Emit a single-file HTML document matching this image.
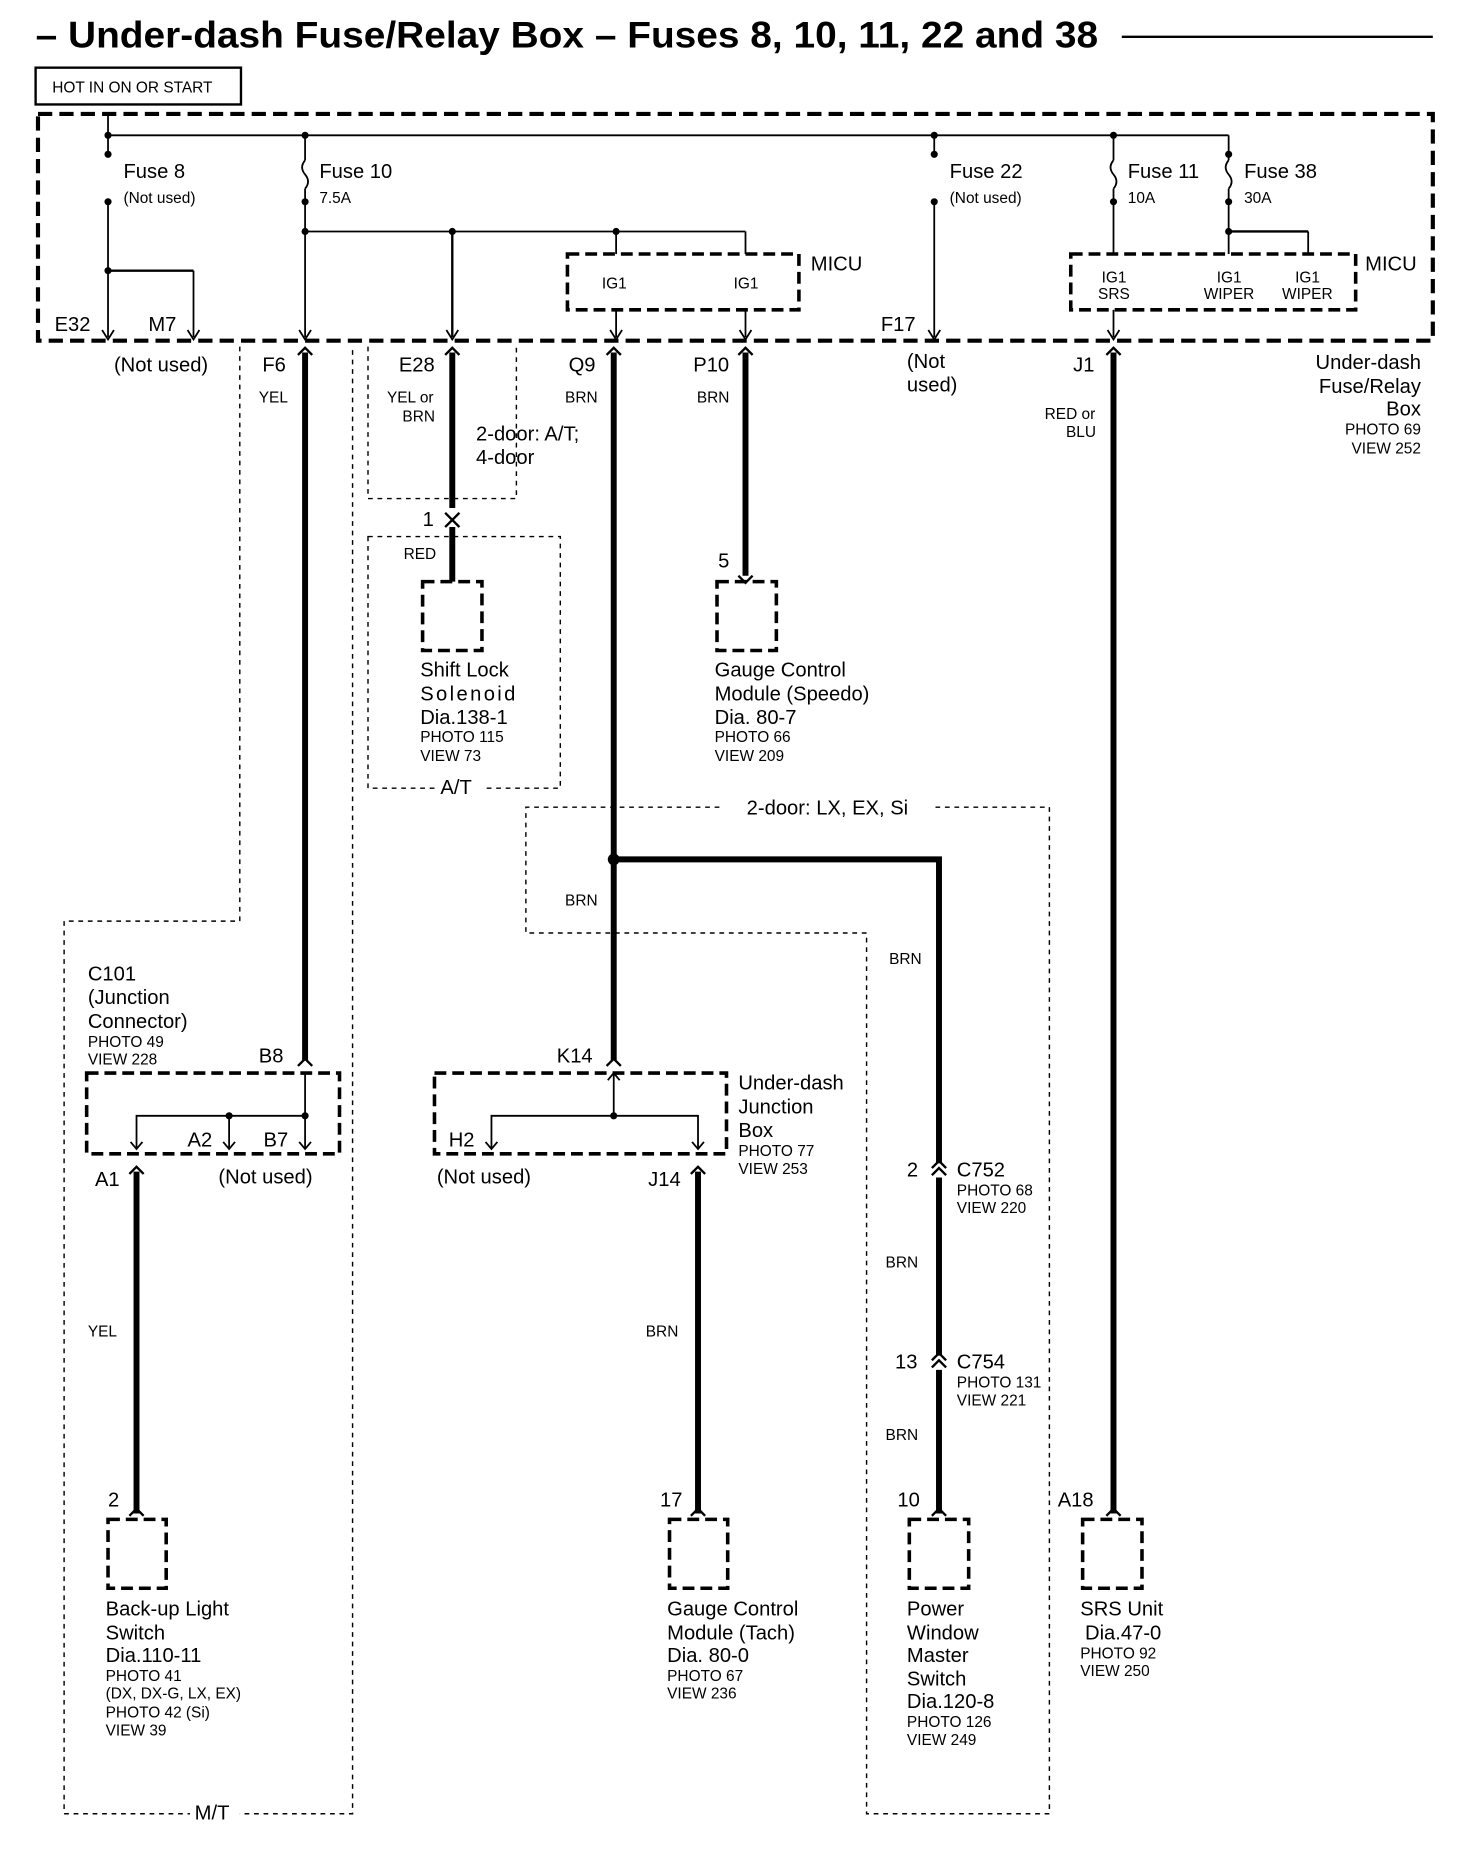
<!DOCTYPE html>
<html><head><meta charset="utf-8"><style>
html,body{margin:0;padding:0;background:#fff}
svg{display:block}
text{font-family:"Liberation Sans",sans-serif;fill:#000}
.l{font-size:17px}.s{font-size:13px}
</style></head><body>
<svg width="1472" height="1866" viewBox="0 0 1240 1572" preserveAspectRatio="none" xmlns="http://www.w3.org/2000/svg">
<g stroke="#000" fill="none">
<line x1="945" y1="31" x2="1207" y2="31" stroke-width="2"/>
<rect x="30" y="57" width="173" height="31" stroke-width="2"/>
<rect x="32" y="96" width="1175" height="191" stroke-width="3.5" stroke-dasharray="12,6"/>
<rect x="478" y="214" width="195" height="47" stroke-width="3" stroke-dasharray="10,5"/>
<rect x="902" y="214" width="240" height="47" stroke-width="3" stroke-dasharray="10,5"/>
<g stroke-width="1.5">
<line x1="91" y1="96" x2="91" y2="114"/>
<line x1="91" y1="114" x2="1035" y2="114"/>
<line x1="91" y1="114" x2="91" y2="130"/>
<line x1="91" y1="170" x2="91" y2="284"/>
<line x1="91" y1="228" x2="163" y2="228" stroke-width="2"/>
<line x1="163" y1="228" x2="163" y2="284"/>
<line x1="257" y1="114" x2="257" y2="135"/>
<path d="M257 135 q-5 6 0 12 q5 6 0 12"/>
<line x1="257" y1="159" x2="257" y2="284"/>
<line x1="257" y1="195" x2="628" y2="195"/>
<line x1="381" y1="195" x2="381" y2="284" stroke-width="2"/>
<line x1="519" y1="195" x2="519" y2="214"/>
<line x1="628" y1="195" x2="628" y2="214"/>
<line x1="519" y1="261" x2="519" y2="284"/>
<line x1="628" y1="261" x2="628" y2="284"/>
<line x1="787" y1="114" x2="787" y2="130"/>
<line x1="787" y1="170" x2="787" y2="284"/>
<line x1="938" y1="114" x2="938" y2="135"/>
<path d="M938 135 q-5 6 0 12 q5 6 0 12"/>
<line x1="938" y1="159" x2="938" y2="214"/>
<line x1="938" y1="261" x2="938" y2="284"/>
<line x1="1035" y1="114" x2="1035" y2="135"/>
<path d="M1035 135 q-5 6 0 12 q5 6 0 12"/>
<line x1="1035" y1="159" x2="1035" y2="214"/>
<line x1="1035" y1="195" x2="1102" y2="195" stroke-width="2"/>
<line x1="1102" y1="195" x2="1102" y2="214"/>
</g>
<g stroke-width="1.5">
<path d="M86 278 l5 8 l5 -8"/><path d="M158 278 l5 8 l5 -8"/><path d="M252 278 l5 8 l5 -8"/>
<path d="M376 278 l5 8 l5 -8"/><path d="M514 278 l5 8 l5 -8"/><path d="M623 278 l5 8 l5 -8"/>
<path d="M782 278 l5 8 l5 -8"/><path d="M933 278 l5 8 l5 -8"/>
</g>
<g stroke-width="1.2" stroke-dasharray="4,4">
<polyline points="202,292 202,776 54,776 54,1528 297,1528 297,292"/>
<polyline points="310,292 310,420 435,420 435,292"/>
<rect x="310" y="452" width="162" height="212"/>
<polyline points="620,680 884,680 884,1528 730,1528 730,786 443,786 443,680 608,680"/>
</g>
<g stroke-width="5">
<line x1="257" y1="297" x2="257" y2="893"/>
<line x1="381" y1="297" x2="381" y2="428"/>
<line x1="381" y1="444" x2="381" y2="490"/>
<line x1="517" y1="297" x2="517" y2="893"/>
<polyline points="517,724 791,724 791,980"/>
<line x1="791" y1="992" x2="791" y2="1142"/>
<line x1="791" y1="1154" x2="791" y2="1275"/>
<line x1="628" y1="297" x2="628" y2="485"/>
<line x1="938" y1="297" x2="938" y2="1275"/>
<line x1="115" y1="987" x2="115" y2="1275"/>
<line x1="588" y1="987" x2="588" y2="1275"/>
</g>
<g stroke-width="2">
<path d="M251 299 l6 -6 l6 6"/><path d="M375 299 l6 -6 l6 6"/><path d="M511 299 l6 -6 l6 6"/>
<path d="M622 299 l6 -6 l6 6"/><path d="M932 299 l6 -6 l6 6"/>
<path d="M375 432 l6 6 l6 -6"/><path d="M375 444 l6 -6 l6 6"/>
<path d="M251 898 l6 -6 l6 6"/><path d="M511 898 l6 -6 l6 6"/>
<path d="M109 989 l6 -6 l6 6"/><path d="M582 989 l6 -6 l6 6"/>
<path d="M785 984 l6 -6 l6 6"/><path d="M785 990 l6 -6 l6 6"/>
<path d="M785 1146 l6 -6 l6 6"/><path d="M785 1152 l6 -6 l6 6"/>
<path d="M622 485 l6 6 l6 -6"/><path d="M109 1277 l6 -6 l6 6"/><path d="M582 1277 l6 -6 l6 6"/>
<path d="M785 1277 l6 -6 l6 6"/><path d="M932 1277 l6 -6 l6 6"/>
</g>
<g stroke-width="3" stroke-dasharray="10,5">
<rect x="356" y="490" width="50" height="58"/><rect x="604" y="490" width="50" height="58"/>
<rect x="91" y="1280" width="49" height="58"/><rect x="564" y="1280" width="49" height="58"/>
<rect x="766" y="1280" width="50" height="58"/><rect x="912" y="1280" width="50" height="58"/>
<rect x="73" y="904" width="213" height="68"/><rect x="366" y="904" width="246" height="68"/>
</g>
<g stroke-width="1.5">
<line x1="257" y1="904" x2="257" y2="968"/>
<polyline points="257,940 115,940 115,968"/>
<line x1="193" y1="940" x2="193" y2="968"/>
<line x1="517" y1="904" x2="517" y2="940"/>
<polyline points="414,968 414,940 588,940 588,968"/>
<path d="M110 962 l5 6 l5 -6"/><path d="M188 962 l5 6 l5 -6"/><path d="M252 962 l5 6 l5 -6"/>
<path d="M409 962 l5 6 l5 -6"/><path d="M583 962 l5 6 l5 -6"/><path d="M512 910 l5 -6 l5 6"/>
</g>
</g>
<g fill="#fff">
<rect x="366" y="656" width="42" height="16"/><rect x="160" y="1520" width="42" height="16"/><rect x="608" y="670" width="180" height="18"/>
</g>
<g fill="#000">
<circle cx="91" cy="114" r="3"/><circle cx="91" cy="130" r="3"/><circle cx="91" cy="170" r="3"/><circle cx="91" cy="228" r="3"/>
<circle cx="257" cy="114" r="3"/><circle cx="257" cy="170" r="3"/><circle cx="257" cy="195" r="3"/><circle cx="381" cy="195" r="3"/><circle cx="519" cy="195" r="3"/>
<circle cx="787" cy="114" r="3"/><circle cx="787" cy="130" r="3"/><circle cx="787" cy="170" r="3"/>
<circle cx="938" cy="114" r="3"/><circle cx="938" cy="170" r="3"/><circle cx="1035" cy="130" r="3"/><circle cx="1035" cy="170" r="3"/><circle cx="1035" cy="195" r="3"/>
<circle cx="517" cy="724" r="5"/><circle cx="193" cy="940" r="3"/><circle cx="257" cy="940" r="3"/><circle cx="517" cy="940" r="3"/>
</g>
<text x="30" y="40" style="font-size:31px;font-weight:bold" textLength="895" lengthAdjust="spacingAndGlyphs">– Under-dash Fuse/Relay Box – Fuses 8, 10, 11, 22 and 38</text>
<text x="44" y="78" class="s">HOT IN ON OR START</text>
<text x="104" y="150" class="l">Fuse 8</text><text x="104" y="171" class="s">(Not used)</text>
<text x="269" y="150" class="l">Fuse 10</text><text x="269" y="171" class="s">7.5A</text>
<text x="800" y="150" class="l">Fuse 22</text><text x="800" y="171" class="s">(Not used)</text>
<text x="950" y="150" class="l">Fuse 11</text><text x="950" y="171" class="s">10A</text>
<text x="1048" y="150" class="l">Fuse 38</text><text x="1048" y="171" class="s">30A</text>
<text x="683" y="228" class="l">MICU</text><text x="1150" y="228" class="l">MICU</text>
<text x="507" y="243" class="s">IG1</text><text x="618" y="243" class="s">IG1</text>
<text x="928" y="238" class="s">IG1</text><text x="925" y="252" class="s">SRS</text>
<text x="1025" y="238" class="s">IG1</text><text x="1014" y="252" class="s">WIPER</text>
<text x="1091" y="238" class="s">IG1</text><text x="1080" y="252" class="s">WIPER</text>
<text x="46" y="279" class="l">E32</text><text x="125" y="279" class="l">M7</text><text x="742" y="279" class="l">F17</text>
<text x="96" y="313" class="l">(Not used)</text><text x="221" y="313" class="l">F6</text><text x="336" y="313" class="l">E28</text>
<text x="479" y="313" class="l">Q9</text><text x="584" y="313" class="l">P10</text>
<text x="764" y="310" class="l">(Not</text><text x="764" y="330" class="l">used)</text><text x="904" y="313" class="l">J1</text>
<text x="1197" y="311" class="l" text-anchor="end">Under-dash</text><text x="1197" y="331" class="l" text-anchor="end">Fuse/Relay</text>
<text x="1197" y="350" class="l" text-anchor="end">Box</text><text x="1197" y="366" class="s" text-anchor="end">PHOTO 69</text><text x="1197" y="382" class="s" text-anchor="end">VIEW 252</text>
<text x="218" y="339" class="s">YEL</text><text x="326" y="339" class="s">YEL or</text><text x="339" y="355" class="s">BRN</text>
<text x="476" y="339" class="s">BRN</text><text x="587" y="339" class="s">BRN</text>
<text x="880" y="353" class="s">RED or</text><text x="898" y="368" class="s">BLU</text>
<text x="401" y="371" class="l">2-door: A/T;</text><text x="401" y="391" class="l">4-door</text>
<text x="356" y="443" class="l">1</text><text x="340" y="471" class="s">RED</text>
<text x="605" y="478" class="l">5</text>
<text x="354" y="570" class="l">Shift  Lock</text><text x="354" y="590" class="l" letter-spacing="2">Solenoid</text>
<text x="354" y="610" class="l">Dia.138-1</text><text x="354" y="625" class="s">PHOTO 115</text><text x="354" y="641" class="s">VIEW 73</text>
<text x="371" y="669" class="l">A/T</text>
<text x="602" y="570" class="l">Gauge Control</text><text x="602" y="590" class="l">Module (Speedo)</text>
<text x="602" y="610" class="l">Dia. 80-7</text><text x="602" y="625" class="s">PHOTO 66</text><text x="602" y="641" class="s">VIEW 209</text>
<text x="629" y="686" class="l">2-door: LX, EX, Si</text>
<text x="476" y="763" class="s">BRN</text><text x="749" y="812" class="s">BRN</text>
<text x="74" y="826" class="l">C101</text><text x="74" y="846" class="l">(Junction</text><text x="74" y="866" class="l">Connector)</text>
<text x="74" y="882" class="s">PHOTO 49</text><text x="74" y="897" class="s">VIEW 228</text>
<text x="218" y="895" class="l">B8</text><text x="469" y="895" class="l">K14</text>
<text x="622" y="918" class="l">Under-dash</text><text x="622" y="938" class="l">Junction</text><text x="622" y="958" class="l">Box</text>
<text x="622" y="974" class="s">PHOTO 77</text><text x="622" y="989" class="s">VIEW 253</text>
<text x="158" y="966" class="l">A2</text><text x="222" y="966" class="l">B7</text><text x="378" y="966" class="l">H2</text>
<text x="80" y="999" class="l">A1</text><text x="184" y="997" class="l">(Not used)</text><text x="368" y="997" class="l">(Not used)</text>
<text x="546" y="999" class="l">J14</text>
<text x="764" y="991" class="l">2</text><text x="806" y="991" class="l">C752</text><text x="806" y="1007" class="s">PHOTO 68</text><text x="806" y="1022" class="s">VIEW 220</text>
<text x="746" y="1068" class="s">BRN</text>
<text x="754" y="1153" class="l">13</text><text x="806" y="1153" class="l">C754</text><text x="806" y="1169" class="s">PHOTO 131</text><text x="806" y="1184" class="s">VIEW 221</text>
<text x="746" y="1213" class="s">BRN</text>
<text x="74" y="1126" class="s">YEL</text><text x="544" y="1126" class="s">BRN</text>
<text x="91" y="1269" class="l">2</text><text x="556" y="1269" class="l">17</text><text x="756" y="1269" class="l">10</text><text x="891" y="1269" class="l">A18</text>
<text x="89" y="1361" class="l">Back-up Light</text><text x="89" y="1381" class="l">Switch</text><text x="89" y="1400" class="l">Dia.110-11</text>
<text x="89" y="1416" class="s">PHOTO 41</text><text x="89" y="1431" class="s">(DX, DX-G, LX, EX)</text><text x="89" y="1447" class="s">PHOTO 42 (Si)</text><text x="89" y="1462" class="s">VIEW 39</text>
<text x="164" y="1533" class="l">M/T</text>
<text x="562" y="1361" class="l">Gauge Control</text><text x="562" y="1381" class="l">Module (Tach)</text><text x="562" y="1400" class="l">Dia. 80-0</text>
<text x="562" y="1416" class="s">PHOTO 67</text><text x="562" y="1431" class="s">VIEW 236</text>
<text x="764" y="1361" class="l">Power</text><text x="764" y="1381" class="l">Window</text><text x="764" y="1400" class="l">Master</text><text x="764" y="1420" class="l">Switch</text>
<text x="764" y="1439" class="l">Dia.120-8</text><text x="764" y="1455" class="s">PHOTO 126</text><text x="764" y="1470" class="s">VIEW 249</text>
<text x="910" y="1361" class="l">SRS Unit</text><text x="914" y="1381" class="l">Dia.47-0</text>
<text x="910" y="1397" class="s">PHOTO 92</text><text x="910" y="1412" class="s">VIEW 250</text>
</svg>
</body></html>
